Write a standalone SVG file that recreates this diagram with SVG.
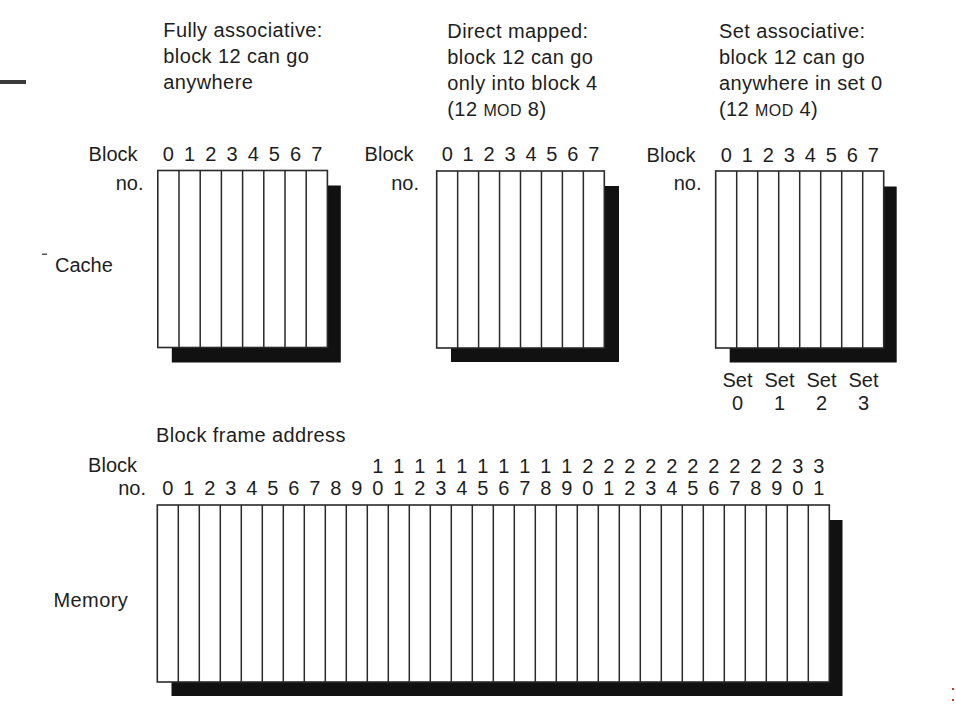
<svg xmlns="http://www.w3.org/2000/svg" width="956" height="706" viewBox="0 0 956 706">
<style>
text{font-family:"Liberation Sans",Arial,Helvetica,sans-serif;font-size:20px;fill:#1e1e1e}
.cap{letter-spacing:0.4px}
.m{text-anchor:middle}
.e{text-anchor:end}
.sc{font-size:16px}
.box{fill:#fff;stroke:#2a2a2a;stroke-width:1.6}
.cols{fill:none;stroke:#2a2a2a;stroke-width:1.5}
.shadow{fill:#111}
</style>
<rect width="956" height="706" fill="#fff"/>
<rect x="0" y="80" width="26" height="4" fill="#3a3a3a"/>
<rect x="42" y="253.5" width="5" height="1.5" fill="#555"/>
<rect x="952" y="688" width="2" height="2" fill="#e03020"/>
<rect x="952" y="699" width="2" height="2" fill="#e03020"/>

<g id="captions">
<text class="cap" x="163.3" y="37">Fully associative:</text>
<text class="cap" x="163.3" y="63">block 12 can go</text>
<text class="cap" x="163.3" y="89">anywhere</text>
<text class="cap" x="447.3" y="38">Direct mapped:</text>
<text class="cap" x="447.3" y="64">block 12 can go</text>
<text class="cap" x="447.3" y="90">only into block 4</text>
<text class="cap" x="447.3" y="116">(12 <tspan class="sc">MOD</tspan> 8)</text>
<text class="cap" x="719" y="38">Set associative:</text>
<text class="cap" x="719" y="64">block 12 can go</text>
<text class="cap" x="719" y="90">anywhere in set 0</text>
<text class="cap" x="719" y="116">(12 <tspan class="sc">MOD</tspan> 4)</text>
<text x="55" y="272">Cache</text>
<text x="53.5" y="607" class="cap">Memory</text>
</g>

<g id="cache-fully">
<text class="e" x="137.5" y="161">Block</text>
<text class="e" x="143.5" y="190">no.</text>
<text class="m" x="168.4" y="161">0</text><text class="m" x="189.6" y="161">1</text><text class="m" x="210.8" y="161">2</text><text class="m" x="232" y="161">3</text><text class="m" x="253.2" y="161">4</text><text class="m" x="274.4" y="161">5</text><text class="m" x="295.6" y="161">6</text><text class="m" x="316.8" y="161">7</text>
<rect class="shadow" x="171.8" y="185.5" width="169" height="177"/>
<rect class="box" x="157.8" y="170.5" width="169.6" height="177"/>
<path class="cols" d="M179 170.5V347.5M200.2 170.5V347.5M221.4 170.5V347.5M242.6 170.5V347.5M263.8 170.5V347.5M285 170.5V347.5M306.2 170.5V347.5"/>
</g>

<g id="cache-direct">
<text class="e" x="413.5" y="161">Block</text>
<text class="e" x="419" y="190">no.</text>
<text class="m" x="447.2" y="161">0</text><text class="m" x="468.1" y="161">1</text><text class="m" x="489.1" y="161">2</text><text class="m" x="510" y="161">3</text><text class="m" x="531" y="161">4</text><text class="m" x="551.9" y="161">5</text><text class="m" x="572.9" y="161">6</text><text class="m" x="593.8" y="161">7</text>
<rect class="shadow" x="451" y="186" width="168" height="176"/>
<rect class="box" x="436.7" y="171" width="167.6" height="177"/>
<path class="cols" d="M457.65 171V348M478.6 171V348M499.55 171V348M520.5 171V348M541.45 171V348M562.4 171V348M583.35 171V348"/>
</g>

<g id="cache-set">
<text class="e" x="695.5" y="161.5">Block</text>
<text class="e" x="701.5" y="190">no.</text>
<text class="m" x="726.2" y="161.5">0</text><text class="m" x="747.2" y="161.5">1</text><text class="m" x="768.2" y="161.5">2</text><text class="m" x="789.2" y="161.5">3</text><text class="m" x="810.2" y="161.5">4</text><text class="m" x="831.2" y="161.5">5</text><text class="m" x="852.2" y="161.5">6</text><text class="m" x="873.2" y="161.5">7</text>
<rect class="shadow" x="729.7" y="186.5" width="167" height="176"/>
<rect class="box" x="715.7" y="171" width="168" height="177"/>
<path class="cols" d="M736.7 171V348M757.7 171V348M778.7 171V348M799.7 171V348M820.7 171V348M841.7 171V348M862.7 171V348"/>
<text class="m" x="737.5" y="387">Set</text><text class="m" x="779.5" y="387">Set</text><text class="m" x="821.5" y="387">Set</text><text class="m" x="863.5" y="387">Set</text>
<text class="m" x="737.5" y="410">0</text><text class="m" x="779.5" y="410">1</text><text class="m" x="821.5" y="410">2</text><text class="m" x="863.5" y="410">3</text>
</g>

<g id="memory">
<text class="cap" x="156" y="441.5">Block frame address</text>
<text class="e" x="137" y="472">Block</text>
<text class="e" x="146" y="495">no.</text>
<g>
<text class="m" x="377.8" y="473">1</text><text class="m" x="398.8" y="473">1</text><text class="m" x="419.8" y="473">1</text><text class="m" x="440.8" y="473">1</text><text class="m" x="461.8" y="473">1</text><text class="m" x="482.8" y="473">1</text><text class="m" x="503.8" y="473">1</text><text class="m" x="524.8" y="473">1</text><text class="m" x="545.8" y="473">1</text><text class="m" x="566.8" y="473">1</text>
<text class="m" x="587.8" y="473">2</text><text class="m" x="608.8" y="473">2</text><text class="m" x="629.8" y="473">2</text><text class="m" x="650.8" y="473">2</text><text class="m" x="671.8" y="473">2</text><text class="m" x="692.8" y="473">2</text><text class="m" x="713.8" y="473">2</text><text class="m" x="734.8" y="473">2</text><text class="m" x="755.8" y="473">2</text><text class="m" x="776.8" y="473">2</text>
<text class="m" x="797.8" y="473">3</text><text class="m" x="818.8" y="473">3</text>
<text class="m" x="167.8" y="495">0</text><text class="m" x="188.8" y="495">1</text><text class="m" x="209.8" y="495">2</text><text class="m" x="230.8" y="495">3</text><text class="m" x="251.8" y="495">4</text><text class="m" x="272.8" y="495">5</text><text class="m" x="293.8" y="495">6</text><text class="m" x="314.8" y="495">7</text><text class="m" x="335.8" y="495">8</text><text class="m" x="356.8" y="495">9</text>
<text class="m" x="377.8" y="495">0</text><text class="m" x="398.8" y="495">1</text><text class="m" x="419.8" y="495">2</text><text class="m" x="440.8" y="495">3</text><text class="m" x="461.8" y="495">4</text><text class="m" x="482.8" y="495">5</text><text class="m" x="503.8" y="495">6</text><text class="m" x="524.8" y="495">7</text><text class="m" x="545.8" y="495">8</text><text class="m" x="566.8" y="495">9</text>
<text class="m" x="587.8" y="495">0</text><text class="m" x="608.8" y="495">1</text><text class="m" x="629.8" y="495">2</text><text class="m" x="650.8" y="495">3</text><text class="m" x="671.8" y="495">4</text><text class="m" x="692.8" y="495">5</text><text class="m" x="713.8" y="495">6</text><text class="m" x="734.8" y="495">7</text><text class="m" x="755.8" y="495">8</text><text class="m" x="776.8" y="495">9</text>
<text class="m" x="797.8" y="495">0</text><text class="m" x="818.8" y="495">1</text>
</g>
<rect class="shadow" x="171.5" y="520" width="671" height="176"/>
<rect class="box" x="157.3" y="505" width="672" height="177"/>
<path class="cols" d="M178.3 505V682M199.3 505V682M220.3 505V682M241.3 505V682M262.3 505V682M283.3 505V682M304.3 505V682M325.3 505V682M346.3 505V682M367.3 505V682M388.3 505V682M409.3 505V682M430.3 505V682M451.3 505V682M472.3 505V682M493.3 505V682M514.3 505V682M535.3 505V682M556.3 505V682M577.3 505V682M598.3 505V682M619.3 505V682M640.3 505V682M661.3 505V682M682.3 505V682M703.3 505V682M724.3 505V682M745.3 505V682M766.3 505V682M787.3 505V682M808.3 505V682"/>
</g>

<g id="connectors"></g>
</svg>
